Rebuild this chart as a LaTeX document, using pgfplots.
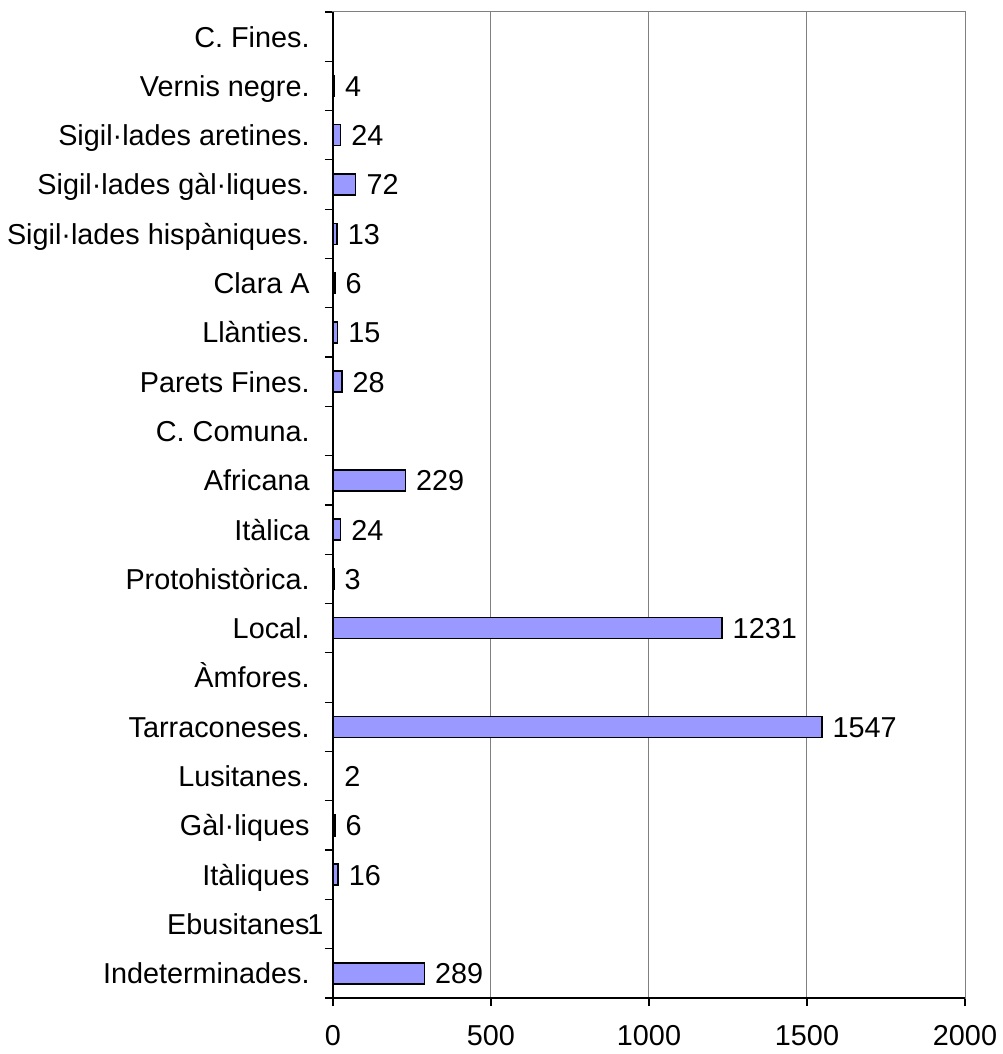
\documentclass[border=0pt]{standalone}
\usepackage{fontspec}
\setmainfont{Liberation Sans}
\usepackage{pgfplots}
\pgfplotsset{compat=1.18}
\definecolor{barfill}{RGB}{153,153,255}
\definecolor{gridgray}{RGB}{128,128,128}
\newcommand\lf{\fontsize{14.4}{17.3}\selectfont}
\begin{document}
\begin{tikzpicture}
\begin{axis}[
  scale only axis, width=316pt, height=493pt,
  at={(0,0)}, anchor=south west,
  xbar, bar width=10.5pt, bar shift=0pt,
  xmin=0, xmax=2000, ymin=-0.5, ymax=19.5,
  xtick={0,500,1000,1500,2000},
  xmajorgrids, major grid style={draw=gridgray, line width=0.5pt},
  ytick={0,...,19},
  yticklabels={Indeterminades., Ebusitanes, Itàliques, Gàl·liques, Lusitanes., Tarraconeses., Àmfores., Local., Protohistòrica., Itàlica, Africana, C. Comuna., Parets Fines., Llànties., Clara A, Sigil·lades hispàniques., Sigil·lades gàl·liques., Sigil·lades aretines., Vernis negre., C. Fines.},
  minor ytick={-0.5,0.5,...,19.5},
  tick align=outside, tick pos=left,
  major tick length=4pt, minor tick length=4pt,
  every major y tick/.append style={draw=none},
  every tick/.append style={black, line width=0.6pt},
  axis line style={draw=gridgray, line width=0.5pt},
  /pgf/number format/1000 sep={},
  /pgf/number format/assume math mode=true,
  ticklabel style={font=\lf},
  yticklabel style={anchor=base east, inner sep=0pt, xshift=-7.5pt, yshift=-5.2pt},
  xticklabel style={anchor=north, inner sep=0pt, yshift=-9.5pt},
  clip=false,
  nodes near coords style={font=\lf, anchor=base west, inner sep=0pt, xshift=5pt, yshift=-5.2pt},
]
\addplot[fill=barfill, draw=black, line width=0.75pt, nodes near coords, point meta=x]
  coordinates {(289,0) (16,2) (6,3) (2,4) (1547,5) (1231,7) (3,8) (24,9) (229,10) (28,12) (15,13) (6,14) (13,15) (72,16) (24,17) (4,18)};
\addplot[fill=barfill, draw=black, line width=0.75pt] coordinates {(1,1)};
\node[anchor=base west, inner sep=0pt, font=\lf, xshift=-13pt, yshift=-5.2pt] at (axis cs:0,1) {1};
\draw[black, line width=0.75pt] (rel axis cs:0,1) -- (rel axis cs:0,0) -- (rel axis cs:1,0);
\end{axis}
\pgfresetboundingbox
\useasboundingbox (-166.5pt,-28pt) rectangle (334.5pt,499pt);
\end{tikzpicture}
\end{document}
